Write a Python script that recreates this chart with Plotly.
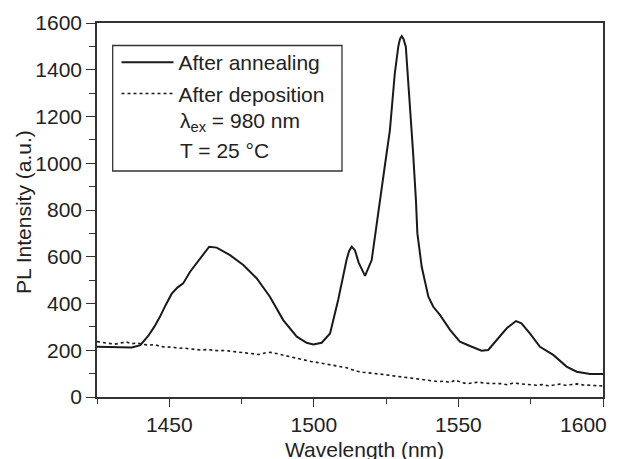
import plotly.graph_objects as go

# ---- data ----
anneal_wl = [1425, 1429, 1433, 1437, 1440, 1442.7, 1444.8, 1446.8, 1448.8, 1450.8, 1452.8,
             1454.8, 1457.2, 1460.6, 1463.8, 1466.4, 1471, 1475.6, 1480.2, 1484.8, 1489.4,
             1494.1, 1497.5, 1499.8, 1502.7, 1505.6, 1508.4, 1511.3, 1512.2, 1513.1, 1514.2,
             1515.5, 1517.7, 1520, 1521.7, 1522.9, 1524.5, 1526.3, 1528, 1529.2, 1529.8,
             1530.4, 1531.0, 1531.8, 1533.2, 1534.3, 1535.3, 1535.8, 1537.3, 1539.6, 1541.3,
             1543.6, 1547.1, 1550.5, 1554, 1558, 1560.3, 1563.2, 1566.7, 1569.9, 1571.8,
             1574.7, 1578.2, 1582.8, 1587.4, 1590.9, 1595.5, 1600]
anneal_int = [215, 214, 210, 212, 222, 261, 300, 344, 395, 441, 468,
              486, 536, 593, 643, 639, 607, 565, 508, 429, 329,
              258, 232, 225, 232, 272, 415, 586, 625, 643, 628,
              575, 518, 586, 729, 843, 985, 1142, 1385, 1499, 1532,
              1544, 1532, 1499, 1271, 1050, 843, 700, 557, 429, 386,
              351, 287, 237, 218, 198, 201, 244, 294, 325, 315,
              272, 215, 180, 130, 108, 98, 98]

depo_wl = [1425, 1427, 1429, 1431, 1433, 1435, 1437, 1439, 1441, 1443, 1445, 1447, 1449,
           1451, 1453, 1455, 1457, 1459, 1461, 1463, 1465, 1467, 1469, 1471, 1473, 1475,
           1477, 1479, 1481, 1483, 1485, 1487, 1489, 1491, 1493, 1495, 1497, 1499, 1501,
           1503, 1505, 1507, 1509, 1511, 1513, 1515, 1517, 1519, 1521, 1523, 1525, 1527,
           1529, 1531, 1533, 1535, 1537, 1539, 1541, 1543, 1545, 1547, 1549, 1551, 1553,
           1555, 1557, 1559, 1561, 1563, 1565, 1567, 1569, 1571, 1573, 1575, 1577, 1579,
           1581, 1583, 1585, 1587, 1589, 1591, 1593, 1595, 1597, 1600]
depo_int = [237, 234, 231, 226, 230, 236, 228, 231, 225, 222, 224, 216, 213,
            214, 208, 210, 206, 204, 201, 203, 199, 198, 199, 196, 193, 190,
            187, 184, 182, 188, 191, 186, 180, 174, 168, 162, 157, 152, 148,
            144, 139, 135, 131, 126, 118, 110, 106, 104, 100, 98, 95, 91,
            88, 86, 84, 79, 77, 74, 70, 66, 68, 62, 73, 62, 57,
            60, 64, 59, 58, 55, 57, 52, 60, 57, 54, 52, 50, 53,
            48, 51, 55, 50, 53, 56, 52, 50, 49, 47]

x_ticks = [1450, 1500, 1550, 1600]
# last label padded so it stays inside the window, as in the reference
x_tick_labels = ["1450", "1500", "1550", "1600" + "\u00a0" * 6 + "\u2009"]
y_ticks = [0, 200, 400, 600, 800, 1000, 1200, 1400, 1600]
legend_notes = ["λ<sub>ex</sub> = 980 nm", "T = 25 °C"]

FONT = "Liberation Sans, Arial, sans-serif"
TXT = "#222222"
AX = "#333333"

fig = go.Figure()
fig.add_trace(go.Scatter(x=anneal_wl, y=anneal_int, mode="lines", name="After annealing",
                         line=dict(color="#1a1a1a", width=2), legendgroup="a"))
fig.add_trace(go.Scatter(x=depo_wl, y=depo_int, mode="lines", name="After deposition",
                         line=dict(color="#1a1a1a", width=1.6, dash="dot"), legendgroup="b"))

# The page body adds an 8px offset; target coordinates below are window pixels.
OFF = 8
WIN_W, WIN_H = 618, 459
PL, PR, PT, PB = 97, 603, 23, 397          # plot box in window pixels
W, H = WIN_W - OFF, WIN_H - OFF
L, T = PL - OFF, PT - OFF
R, B = W - (PR - OFF), H - (PB - OFF)
pw, ph = PR - PL, PB - PT


def px(xp):
    return (xp - PL) / pw


def py(yp):
    return (PB - yp) / ph


# legend frame
fig.add_shape(type="rect", xref="paper", yref="paper",
              x0=px(112.7), x1=px(342), y0=py(171), y1=py(45.5),
              line=dict(color=AX, width=1.3), fillcolor="rgba(0,0,0,0)")

for i, note in enumerate(legend_notes):
    fig.add_annotation(text=note, xref="paper", yref="paper", x=px(178), y=py(122.5 + 28 * i),
                       xanchor="left", yanchor="middle", showarrow=False,
                       font=dict(family=FONT, size=21, color=TXT))

# axis titles
fig.add_annotation(text="Wavelength (nm)", xref="paper", yref="paper", x=px(364), y=py(450),
                   xanchor="center", yanchor="middle", showarrow=False,
                   font=dict(family=FONT, size=21, color=TXT))
fig.add_annotation(text="PL Intensity (a.u.)", xref="paper", yref="paper", x=px(23), y=py(212),
                   xanchor="center", yanchor="middle", showarrow=False, textangle=-90,
                   font=dict(family=FONT, size=21, color=TXT))

fig.update_layout(
    width=W, height=H,
    margin=dict(l=L, r=R, t=T, b=B, autoexpand=False),
    paper_bgcolor="white", plot_bgcolor="white",
    font=dict(family=FONT, size=21, color=TXT),
    showlegend=True,
    legend=dict(x=px(116.5), y=py(42), xanchor="left", yanchor="top",
                bgcolor="rgba(0,0,0,0)", borderwidth=0, itemwidth=52,
                tracegroupgap=1, font=dict(family=FONT, size=21, color=TXT)),
    xaxis=dict(range=[1425, 1600], tickvals=x_ticks, ticktext=x_tick_labels,
               ticks="outside", ticklen=8, tickwidth=1.3,
               tickcolor=AX, showline=True, linecolor=AX, linewidth=1.5, mirror=True,
               showgrid=False, zeroline=False, ticklabeloverflow="allow",
               minor=dict(dtick=25, tick0=1425, ticks="outside", ticklen=5, tickwidth=1.3,
                          tickcolor=AX, showgrid=False),
               tickfont=dict(family=FONT, size=21, color=TXT)),
    yaxis=dict(range=[0, 1600], tickvals=y_ticks, ticks="outside", ticklen=9, tickwidth=1.3,
               tickcolor=AX, showline=True, linecolor=AX, linewidth=1.5, mirror=True,
               showgrid=False, zeroline=False, ticklabeloverflow="allow",
               minor=dict(dtick=100, tick0=0, ticks="outside", ticklen=6, tickwidth=1.3,
                          tickcolor=AX, showgrid=False),
               tickfont=dict(family=FONT, size=21, color=TXT)),
)

fig.write_html("out.html")
